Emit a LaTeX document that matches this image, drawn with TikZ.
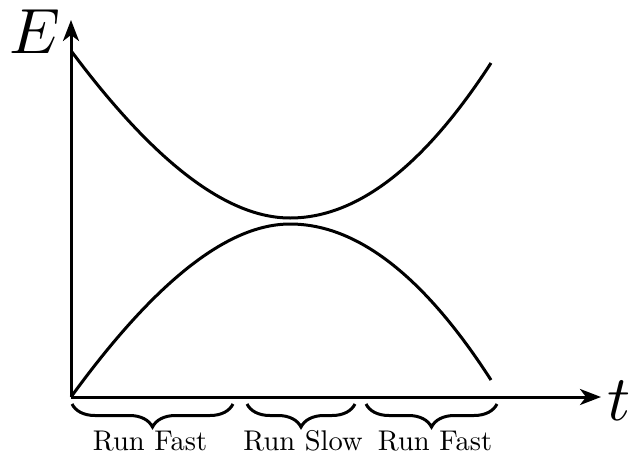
\RequirePackage{fix-cm}
\documentclass[tikz,border=0pt]{standalone}
\usepackage{graphicx}
\usetikzlibrary{arrows.meta,decorations.pathreplacing}
\newcommand{\lblscale}[1]{\scalebox{2.85}{#1}}
\newcommand{\bigscale}[1]{\scalebox{6.4}{#1}}
\begin{document}
\begin{tikzpicture}[x=1pt,y=-1pt,
  curve/.style={line width=3pt},
  axis/.style={line width=3pt,-{Stealth[length=21pt,width=16pt,inset=6pt]}},
  brc/.style={line width=3pt,decorate,decoration={brace,mirror,amplitude=23pt}},
  lbl/.style={font=\fontsize{10}{12}\selectfont,anchor=base,inner sep=0pt},
  big/.style={font=\fontsize{10}{12}\selectfont,anchor=base west,inner sep=0pt}]
\useasboundingbox (0,0) rectangle (630,456);
\coordinate (O) at (71,397);
\coordinate (ytop) at (71,20);
\coordinate (xend) at (601,397);
\draw[axis] (O) -- (ytop);
\draw[axis] (O) -- (xend);
\node[big] (E) at (9,53) {\bigscale{$E$}};
\node[big] (t) at (607,420) {\bigscale{$t$}};
% upper curve
\coordinate (u0) at (72,52);
\coordinate (um) at (290,218);
\coordinate (u1) at (491,63);
\draw[curve] (u0) .. controls (154.7,162.7) and (227.3,218) .. (um)
  .. controls (357,218) and (424,166.3) .. (u1);
% lower curve
\coordinate (lm) at (290,224);
\coordinate (l1) at (491,380);
\draw[curve] (O) .. controls (155,281.3) and (228,224) .. (lm)
  .. controls (357,224) and (424,276) .. (l1);
% braces
\coordinate (b1a) at (72,404); \coordinate (b1b) at (233,404);
\coordinate (b2a) at (247,404); \coordinate (b2b) at (355,404);
\coordinate (b3a) at (366,404); \coordinate (b3b) at (497,404);
\draw[brc] (b1a) -- (b1b);
\draw[brc] (b2a) -- (b2b);
\draw[brc] (b3a) -- (b3b);
\node[lbl] (f1) at (150,450) {\lblscale{Run Fast}};
\node[lbl] (s1) at (303,450) {\lblscale{Run Slow}};
\node[lbl] (f2) at (435,450) {\lblscale{Run Fast}};
\end{tikzpicture}
\end{document}
